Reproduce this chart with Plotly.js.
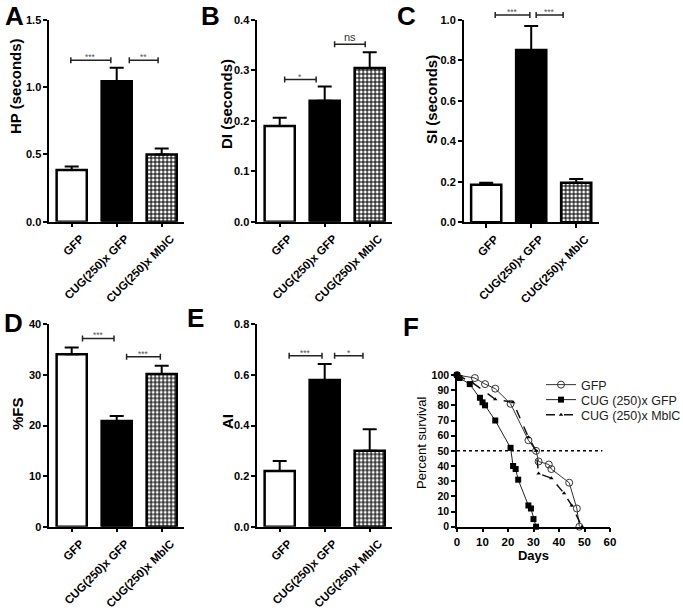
<!DOCTYPE html>
<html><head><meta charset="utf-8">
<script src="https://cdn.plot.ly/plotly-3.0.1.min.js"></script>
<style>html,body{margin:0;padding:0;background:#fff;} #chart{width:683px;height:610px;}</style>
</head><body><div id="chart"></div>
<script>
// ---------- data ----------
const categories = ['GFP', 'CUG(250)x GFP', 'CUG(250)x MblC'];

const hpMean = [0.385, 1.045, 0.50];
const hpSem  = [0.025, 0.10, 0.045];
const diMean = [0.19, 0.24, 0.305];
const diSem  = [0.016, 0.028, 0.031];
const siMean = [0.185, 0.852, 0.196];
const siSem  = [0.011, 0.118, 0.018];
const fsMean = [34.1, 20.9, 30.2];
const fsSem  = [1.3, 1.0, 1.6];
const aiMean = [0.22, 0.58, 0.30];
const aiSem  = [0.04, 0.063, 0.085];

const hpSig = ['***', '**'];
const diSig = ['*', 'ns'];
const siSig = ['***', '***'];
const fsSig = ['***', '***'];
const aiSig = ['***', '*'];

const survSeries = ['GFP', 'CUG (250)x GFP', 'CUG (250)x MblC'];
const gfpDays = [0, 7, 11, 15, 21, 28, 31, 32, 36, 37, 44, 47, 48];
const gfpSurv = [100, 98, 94, 91, 81, 57, 50, 43, 41, 38, 29, 12, 0];
const cugDays = [0, 1, 5, 9, 10, 11, 15, 21, 22, 23, 24, 28, 29, 30, 31];
const cugSurv = [100, 98, 94, 85, 82, 80, 70, 52, 40, 38, 31, 14, 12, 5, 0];
const mblDays = [0, 6, 15, 22, 28, 31, 32, 37, 42, 45, 49];
const mblSurv = [100, 95, 84, 82, 59, 50, 35, 32, 22, 14, 0];

// ---------- layout helpers ----------
const FONT = 'Liberation Sans, Arial, Helvetica, sans-serif';
const W = 683, H = 610;
const px = (a, b) => [a / W, b / W];
const py = (top, bottom) => [1 - bottom / H, 1 - top / H];

const barPanels = [
  {letter: 'A', mean: hpMean, sem: hpSem, sig: hpSig, title: 'HP (seconds)', range: [0, 1.5], dtick: 0.5, fmt: '.1f',
   xd: px(49.2, 184.2), yd: py(20, 221.7), br: [[-0.02, 0.87, 1.2], [1.28, 1.92, 1.2]], lp: [14, 16], tp: [15, 86]},
  {letter: 'B', mean: diMean, sem: diSem, sig: diSig, title: 'DI (seconds)', range: [0, 0.4], dtick: 0.1, fmt: '.1f',
   xd: px(257.2, 392.2), yd: py(20, 221.7), br: [[0.11, 0.81, 0.282], [1.22, 1.9, 0.352]], lp: [210, 16], tp: [226, 104]},
  {letter: 'C', mean: siMean, sem: siSem, sig: siSig, title: 'SI (seconds)', range: [0, 1.0], dtick: 0.2, fmt: '.1f',
   xd: px(463.7, 598.7), yd: py(20, 222.3), br: [[0.2, 0.97, 1.025], [1.11, 1.71, 1.025]], lp: [406, 16], tp: [432, 100]},
  {letter: 'D', mean: fsMean, sem: fsSem, sig: fsSig, title: '%FS', range: [0, 40], dtick: 10, fmt: 'd',
   xd: px(49.2, 184.2), yd: py(324.3, 526.7), br: [[0.24, 0.94, 37.2], [1.22, 1.97, 33.6]], lp: [13, 323], tp: [17, 414]},
  {letter: 'E', mean: aiMean, sem: aiSem, sig: aiSig, title: 'AI', range: [0, 0.8], dtick: 0.2, fmt: '.1f',
   xd: px(257.2, 392.2), yd: py(324.3, 526.7), br: [[0.21, 0.94, 0.676], [1.22, 1.85, 0.676]], lp: [195, 318], tp: [228, 422]}
];

const data = [];
const layout = {
  width: W, height: H,
  margin: {l: 0, r: 0, t: 0, b: 0, autoexpand: false},
  paper_bgcolor: '#fff', plot_bgcolor: 'rgba(0,0,0,0)',
  font: {family: FONT, color: '#000'},
  bargap: 0.33, barmode: 'overlay',
  showlegend: true,
  shapes: [], annotations: []
};

const tickFont = {family: FONT, size: 11, weight: 'bold', color: '#000'};
const axisCommon = {showline: true, linewidth: 1.5, linecolor: '#000', ticks: 'outside', ticklen: 4,
  tickwidth: 1.5, tickcolor: '#000', showgrid: false, zeroline: false, fixedrange: true, tickfont: tickFont,
  automargin: false};

barPanels.forEach((p, i) => {
  const n = i + 1;
  const xa = 'x' + (n === 1 ? '' : n), ya = 'y' + (n === 1 ? '' : n);
  const xk = 'xaxis' + (n === 1 ? '' : n), yk = 'yaxis' + (n === 1 ? '' : n);
  const errCommon = {type: 'data', symmetric: false, color: '#000', thickness: 2, width: 7};
  // plain bars (GFP white, CUG GFP black)
  data.push({
    type: 'bar', x: categories.slice(0, 2), y: p.mean.slice(0, 2), xaxis: xa, yaxis: ya, showlegend: false,
    marker: {color: ['#fff', '#000'], line: {color: '#000', width: 2.5}},
    error_y: Object.assign({array: p.sem.slice(0, 2), arrayminus: [0, 0]}, errCommon)
  });
  // checkered bar (CUG MblC)
  data.push({
    type: 'bar', x: categories.slice(2), y: p.mean.slice(2), xaxis: xa, yaxis: ya, showlegend: false,
    marker: {color: '#fff', line: {color: '#000', width: 2.5},
             pattern: {shape: '+', fgcolor: '#000', bgcolor: '#fff', fgopacity: 1, size: 4, solidity: 0.5, fillmode: 'replace'}},
    error_y: Object.assign({array: p.sem.slice(2), arrayminus: [0]}, errCommon)
  });
  layout[xk] = Object.assign({}, axisCommon, {domain: p.xd, anchor: ya, type: 'category',
    categoryorder: 'array', categoryarray: categories, ticklabelshift: 9,
    range: [-0.5, 2.5], tickangle: -45, tickfont: {family: FONT, size: 11.5, weight: 'bold', color: '#000'}});
  layout[yk] = Object.assign({}, axisCommon, {domain: p.yd, anchor: xa, range: p.range,
    tick0: 0, dtick: p.dtick, tickformat: p.fmt});
  const yP = v => p.yd[0] + (v - p.range[0]) / (p.range[1] - p.range[0]) * (p.yd[1] - p.yd[0]);
  const cap = 3 / H;
  p.br.forEach((b, j) => {
    const [x0, x1, yv] = b;
    const yy = yP(yv);
    const ln = {color: '#222', width: 1.5};
    layout.shapes.push({type: 'line', xref: xa, yref: 'paper', x0: x0, x1: x1, y0: yy, y1: yy, line: ln});
    layout.shapes.push({type: 'line', xref: xa, yref: 'paper', x0: x0, x1: x0, y0: yy - cap, y1: yy + cap, line: ln});
    layout.shapes.push({type: 'line', xref: xa, yref: 'paper', x0: x1, x1: x1, y0: yy - cap, y1: yy + cap, line: ln});
    const lab = p.sig[j];
    layout.annotations.push({xref: xa, yref: 'paper', x: (x0 + x1) / 2, y: yy, yanchor: 'bottom',
      yshift: lab === 'ns' ? -1 : -4, showarrow: false, text: lab,
      font: {family: FONT, size: lab === 'ns' ? 11 : 8.5, color: lab === 'ns' ? '#333' : '#555'}});
  });
  // panel letter
  layout.annotations.push({xref: 'paper', yref: 'paper', x: p.lp[0] / W, y: 1 - p.lp[1] / H,
    xanchor: 'center', yanchor: 'middle', showarrow: false, text: p.letter,
    font: {family: FONT, size: 26, weight: 'bold', color: '#000'}});
  // y-axis title
  layout.annotations.push({xref: 'paper', yref: 'paper', x: p.tp[0] / W, y: 1 - p.tp[1] / H,
    xanchor: 'center', yanchor: 'middle', showarrow: false, text: p.title, textangle: -90,
    font: {family: FONT, size: 15, weight: 'bold', color: '#000'}});
});

// ---------- panel F (survival) ----------
data.push({type: 'scatter', mode: 'lines+markers', name: survSeries[0], x: gfpDays, y: gfpSurv,
  xaxis: 'x6', yaxis: 'y6', cliponaxis: false, legend: 'legend',
  line: {color: '#333', width: 1},
  marker: {symbol: 'circle-open', size: 7, color: '#333', line: {width: 1, color: '#333'}}});
data.push({type: 'scatter', mode: 'lines+markers', name: survSeries[1], x: cugDays, y: cugSurv,
  xaxis: 'x6', yaxis: 'y6', cliponaxis: false, legend: 'legend2',
  line: {color: '#222', width: 1},
  marker: {symbol: 'square', size: 6, color: '#000'}});
data.push({type: 'scatter', mode: 'lines+markers', name: survSeries[2], x: mblDays, y: mblSurv,
  xaxis: 'x6', yaxis: 'y6', cliponaxis: false, legend: 'legend3',
  line: {color: '#111', width: 1.5, dash: 'dash'},
  marker: {symbol: 'triangle-up', size: 4, color: '#000'}});

layout.xaxis6 = Object.assign({}, axisCommon, {domain: px(457, 610), anchor: 'y6', range: [0, 60], dtick: 10,
  tickfont: {family: FONT, size: 11.5, weight: 'bold', color: '#000'},
  title: {text: 'Days', font: {family: FONT, size: 13, weight: 'bold', color: '#000'}, standoff: 4}});
layout.yaxis6 = Object.assign({}, axisCommon, {domain: py(375, 526.7), anchor: 'x6', range: [0, 100], dtick: 10,
  tickfont: {family: FONT, size: 10.5, weight: 'bold', color: '#000'}});
layout.annotations.push({xref: 'paper', yref: 'paper', x: 421 / W, y: 1 - 443 / H,
  xanchor: 'center', yanchor: 'middle', showarrow: false, text: 'Percent survival', textangle: -90,
  font: {family: FONT, size: 13, color: '#000'}});
layout.shapes.push({type: 'line', xref: 'x6', yref: 'y6', x0: 0, x1: 57, y0: 50, y1: 50,
  line: {color: '#000', width: 1.5, dash: 'dot'}});
layout.annotations.push({xref: 'paper', yref: 'paper', x: 411 / W, y: 1 - 327 / H,
  xanchor: 'center', yanchor: 'middle', showarrow: false, text: 'F',
  font: {family: FONT, size: 26, weight: 'bold', color: '#000'}});
const legBase = {x: 541 / W, xanchor: 'left', yanchor: 'middle',
  font: {family: FONT, size: 12.5, color: '#222'}, bgcolor: 'rgba(0,0,0,0)', itemwidth: 30};
layout.legend  = Object.assign({}, legBase, {y: 1 - 385 / H});
layout.legend2 = Object.assign({}, legBase, {y: 1 - 400 / H});
layout.legend3 = Object.assign({}, legBase, {y: 1 - 415 / H});

Plotly.newPlot('chart', data, layout, {displayModeBar: false});
</script>
</body></html>
